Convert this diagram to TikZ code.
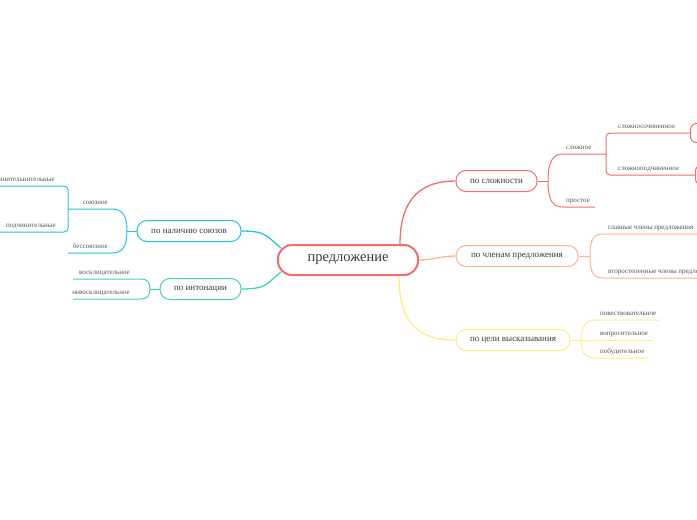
\documentclass[tikz,border=0pt]{standalone}
\usepackage{fontspec}
\setmainfont{Liberation Serif}
\definecolor{redc}{HTML}{F26D6D}
\definecolor{orangec}{HTML}{FFB68C}
\definecolor{yellowc}{HTML}{FFEC85}
\definecolor{cyanc}{HTML}{1EC8D8}
\definecolor{mintc}{HTML}{3ED8A8}
\definecolor{textc}{HTML}{3A3A3A}
\definecolor{leafc}{HTML}{555555}
\tikzset{
  root/.style={draw=redc, line width=2pt, rounded corners=14pt, fill=white,
    minimum width=140pt, minimum height=30pt, text=textc,
    font=\fontsize{14.5}{16}\selectfont},
  topic/.style={draw=#1, line width=1pt, rounded corners=10pt, fill=white,
    minimum height=21pt, text=textc, font=\fontsize{9}{11}\selectfont},
  subbox/.style={draw=#1, line width=1pt, rounded corners=6pt, fill=white,
    minimum width=40pt, anchor=west},
  leaf/.style={inner sep=0pt, text=leafc, font=\fontsize{7}{8}\selectfont},
  link/.style={draw=#1, line width=1.3pt},
  twig/.style={draw=#1, line width=1pt},
}
\begin{document}
\begin{tikzpicture}[x=1pt,y=-1pt]
  \useasboundingbox (0,0) rectangle (697,520);
  \clip (0,0) rectangle (697,520);

  % 1. центральная тема
  \node[root] (sent) at (348,260) {предложение};

  % 2. ветви справа и слева
  \node[topic=redc, minimum width=81pt] (cplx) at (496.5,181) {по сложности};
  \node[topic=orangec, minimum width=122pt] (memb) at (517,256) {по членам предложения};
  \node[topic=yellowc, minimum width=114pt] (goal) at (513,340) {по цели высказывания};
  \node[topic=cyanc, minimum width=104pt] (conj) at (189,231) {по наличию союзов};
  \node[topic=mintc, minimum width=81pt] (inton) at (200.5,289) {по интонации};

  % 3. связи с центром
  \draw[link=redc] ([xshift=-19pt]sent.north east) .. controls +(0,-50) and +(-30,0) .. (cplx.west);
  \draw[link=orangec] (sent.east) .. controls +(15,0) and +(-15,0) .. (memb.west);
  \draw[link=yellowc] ([xshift=-20pt]sent.south east) .. controls +(0,50) and +(-35,0) .. (goal.west);
  \draw[link=cyanc] ([xshift=4pt,yshift=-4pt]sent.north west) .. controls +(-15,-12) and +(25,0) .. (conj.east);
  \draw[link=mintc] ([xshift=4pt,yshift=4pt]sent.south west) .. controls +(-15,12) and +(25,0) .. (inton.west -| inton.east);

  % 4. по сложности
  \coordinate (cplxj) at (548,181);
  \coordinate (cplxf) at (606,154);
  \coordinate (simpe) at (595,207);
  \node[subbox=redc, minimum height=19pt] (sochbox) at (690,133) {};
  \node[subbox=redc, minimum height=20pt] (podbox) at (695,175) {};
  \draw[twig=redc] (cplx.east) -- (cplxj);
  \draw[twig=redc] (cplxj) .. controls +(0,-22) and +(-10,0) .. (564,154) -- (cplxf);
  \draw[twig=redc] (cplxj) .. controls +(0,22) and +(-10,0) .. (564,207) -- (simpe);
  \draw[twig=redc, rounded corners=4pt] (sochbox.west) -- (606,133) -- (606,175) -- (podbox.west);
  \node[leaf, anchor=base west] (compound) at (566,149) {сложное};
  \node[leaf, anchor=base west] (simple) at (566,202) {простое};
  \node[leaf, anchor=base west] (soch) at (618,128) {сложносочиненное};
  \node[leaf, anchor=base west] (podch) at (618,170) {сложноподчиненное};

  % 5. по членам предложения
  \coordinate (membj) at (590,256);
  \coordinate (mainend) at (700,234);
  \coordinate (secend) at (700,278);
  \draw[twig=orangec] (memb.east) -- (membj);
  \draw[twig=orangec] (membj) .. controls +(0,-18) and +(-10,0) .. (604,234) -- (mainend);
  \draw[twig=orangec] (membj) .. controls +(0,18) and +(-10,0) .. (604,278) -- (secend);
  \node[leaf, anchor=base west] (mainm) at (608,229) {главные члены предложения};
  \node[leaf, anchor=base west] (secm) at (608,273) {второстепенные члены предложения};

  % 6. по цели высказывания
  \coordinate (goalj) at (581,340);
  \coordinate (narrend) at (660,320);
  \coordinate (questend) at (652,340);
  \coordinate (impend) at (648,358);
  \draw[twig=yellowc] (goal.east) -- (goalj);
  \draw[twig=yellowc] (goalj) .. controls +(0,-15) and +(-8,0) .. (595,320) -- (narrend);
  \draw[twig=yellowc] (goalj) -- (questend);
  \draw[twig=yellowc] (goalj) .. controls +(0,15) and +(-8,0) .. (595,358) -- (impend);
  \node[leaf, anchor=base west] (narr) at (600,315) {повествовательное};
  \node[leaf, anchor=base west] (quest) at (600,335) {вопросительное};
  \node[leaf, anchor=base west] (imper) at (600,353) {побудительное};

  % 7. по наличию союзов
  \coordinate (conjj) at (127,231);
  \coordinate (unionf) at (68,209);
  \coordinate (nounend) at (68,253);
  \draw[twig=cyanc] (conj.west) -- (conjj);
  \draw[twig=cyanc] (conjj) .. controls +(0,-16) and +(10,0) .. (112,209) -- (unionf);
  \draw[twig=cyanc] (conjj) .. controls +(0,16) and +(10,0) .. (112,253) -- (nounend);
  \draw[twig=cyanc, rounded corners=4pt] (-5,186) -- (68,186) -- (68,232) -- (-5,232);
  \node[leaf, anchor=base east] (union) at (108,204) {союзное};
  \node[leaf, anchor=base east] (nounion) at (108,248) {бессоюзное};
  \node[leaf, anchor=base east] (coord) at (55,181) {сочинительнительные};
  \node[leaf, anchor=base east] (subord) at (56,227) {подчинительные};

  % 8. по интонации
  \coordinate (intonj) at (150,289);
  \coordinate (exclend) at (73,279);
  \coordinate (nexclend) at (73,299);
  \draw[twig=mintc] (inton.west) -- (intonj);
  \draw[twig=mintc] (intonj) .. controls +(0,-7) and +(6,0) .. (141,279) -- (exclend);
  \draw[twig=mintc] (intonj) .. controls +(0,7) and +(6,0) .. (141,299) -- (nexclend);
  \node[leaf, anchor=base east] (excl) at (130,274) {восклицательное};
  \node[leaf, anchor=base east] (nexcl) at (130,294) {невосклицательное};
\end{tikzpicture}
\end{document}
